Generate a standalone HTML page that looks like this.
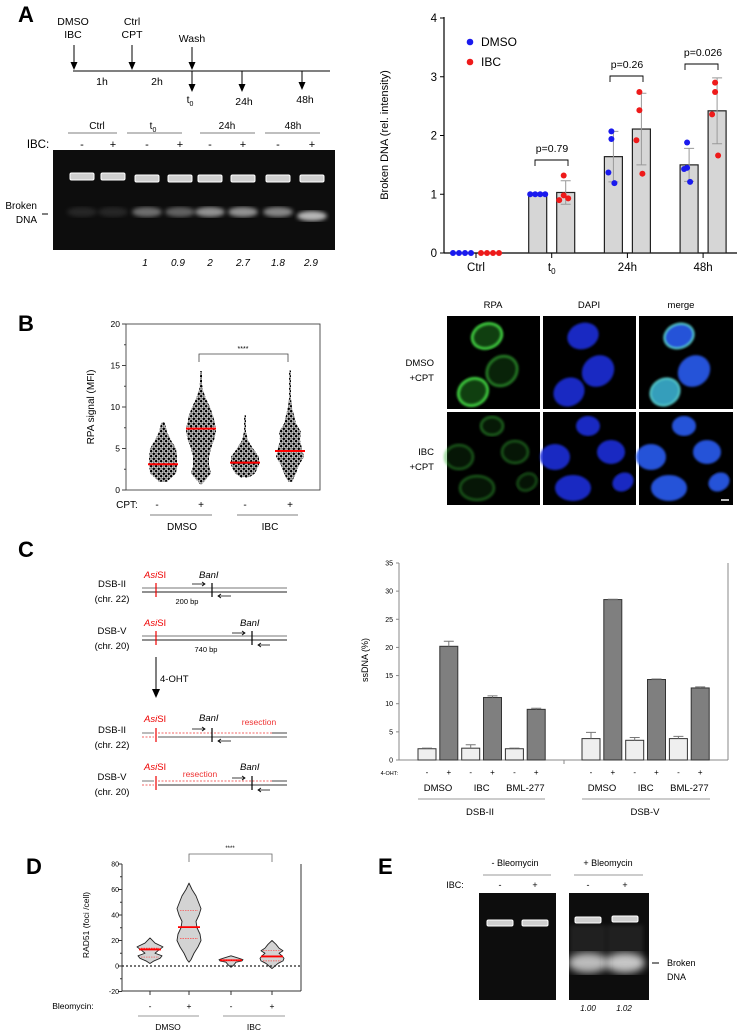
<!DOCTYPE html>
<html><head><meta charset="utf-8"><style>
html,body{margin:0;padding:0;background:#fff}
svg{display:block;font-family:"Liberation Sans",Arial,sans-serif}
</style></head><body>
<svg id="fig" width="737" height="1032" viewBox="0 0 737 1032" xmlns="http://www.w3.org/2000/svg">
<defs>
<filter id="blur2"><feGaussianBlur stdDeviation="2"/></filter>
<filter id="blur1"><feGaussianBlur stdDeviation="1"/></filter>
<filter id="blur4"><feGaussianBlur stdDeviation="4"/></filter>
<pattern id="dots" width="5" height="5" patternUnits="userSpaceOnUse"><rect width="5" height="5" fill="#fff"/><circle cx="1.2" cy="1.2" r="1.3" fill="#000"/><circle cx="3.7" cy="3.7" r="1.3" fill="#000"/><circle cx="3.9" cy="1.0" r="0.8" fill="#222"/><circle cx="1.0" cy="3.9" r="0.8" fill="#222"/></pattern>
</defs>

<!-- Panel A -->
<g>
<text x="18" y="22" font-size="22" font-weight="bold">A</text>
<g font-size="10.5" text-anchor="middle">
<text x="73" y="25">DMSO</text><text x="73" y="38">IBC</text>
<text x="132" y="25">Ctrl</text><text x="132" y="38">CPT</text>
<text x="192" y="42">Wash</text>
<line x1="73" y1="71" x2="330" y2="71" stroke="#000" stroke-width="1"/>
<line x1="74" y1="45" x2="74" y2="63" stroke="#000"/><polygon points="70.5,62 77.5,62 74,70" fill="#000"/>
<line x1="132" y1="45" x2="132" y2="63" stroke="#000"/><polygon points="128.5,62 135.5,62 132,70" fill="#000"/>
<line x1="192" y1="47" x2="192" y2="63" stroke="#000"/><polygon points="188.5,62 195.5,62 192,70" fill="#000"/>
<line x1="192" y1="71" x2="192" y2="85" stroke="#000"/><polygon points="188.5,84 195.5,84 192,92" fill="#000"/>
<line x1="242" y1="71" x2="242" y2="85" stroke="#000"/><polygon points="238.5,84 245.5,84 242,92" fill="#000"/>
<line x1="302" y1="71" x2="302" y2="83" stroke="#000"/><polygon points="298.5,82 305.5,82 302,90" fill="#000"/>
<text x="102" y="85">1h</text><text x="157" y="85">2h</text>
<text x="190" y="103">t<tspan font-size="7" dy="3">0</tspan></text>
<text x="244" y="105">24h</text><text x="305" y="103">48h</text>
</g>
<g font-size="10" text-anchor="middle">
<text x="97" y="129">Ctrl</text><text x="153" y="129">t<tspan font-size="7" dy="3">0</tspan></text>
<text x="227" y="129">24h</text><text x="293" y="129">48h</text>
<line x1="68" y1="133" x2="117" y2="133" stroke="#555" stroke-width="0.8"/>
<line x1="127" y1="133" x2="182" y2="133" stroke="#555" stroke-width="0.8"/>
<line x1="200" y1="133" x2="255" y2="133" stroke="#555" stroke-width="0.8"/>
<line x1="265" y1="133" x2="320" y2="133" stroke="#555" stroke-width="0.8"/>
<text x="38" y="148" font-size="11.5">IBC:</text>
<text x="82" y="148" font-size="11">-</text><text x="113" y="148" font-size="11">+</text>
<text x="147" y="148" font-size="11">-</text><text x="180" y="148" font-size="11">+</text>
<text x="210" y="148" font-size="11">-</text><text x="243" y="148" font-size="11">+</text>
<text x="278" y="148" font-size="11">-</text><text x="312" y="148" font-size="11">+</text>
</g>
<rect x="53" y="150" width="282" height="100" fill="#0d0d0d"/>
<g id="gelA"></g>
<g font-size="10" text-anchor="end">
<text x="37" y="209">Broken</text><text x="37" y="223">DNA</text>
<line x1="42" y1="214" x2="48" y2="214" stroke="#000"/>
</g>
<g font-size="10" font-style="italic" text-anchor="middle">
<text x="145" y="266">1</text><text x="178" y="266">0.9</text><text x="210" y="266">2</text>
<text x="243" y="266">2.7</text><text x="278" y="266">1.8</text><text x="311" y="266">2.9</text>
</g>
</g>

<g id="chartA">
<text transform="translate(388,135) rotate(-90)" font-size="11" text-anchor="middle">Broken DNA (rel. intensity)</text>
<line x1="444" y1="17" x2="444" y2="253" stroke="#000" stroke-width="1.2"/>
<line x1="444" y1="253" x2="737" y2="253" stroke="#000" stroke-width="1.2"/>
<circle cx="470" cy="42" r="3.3" fill="#1a1aee"/>
<text x="481" y="46" font-size="12">DMSO</text>
<circle cx="470" cy="62" r="3.3" fill="#ee1a1a"/>
<text x="481" y="66" font-size="12">IBC</text>
<g font-size="10.5" text-anchor="middle" fill="none" stroke="#000" stroke-width="0.9">
<path d="M535,166 V160 H568 V166"/>
<path d="M610,82 V76 H643 V82"/>
<path d="M685,70 V64 H718 V70"/>
</g>
<g font-size="10.5" text-anchor="middle">
<text x="552" y="152">p=0.79</text>
<text x="627" y="68">p=0.26</text>
<text x="703" y="56">p=0.026</text>
</g>
</g>

<!-- Panel B -->
<g>
<text x="18" y="331" font-size="22" font-weight="bold">B</text>
<g id="chartB">
<rect x="126" y="324" width="194" height="166" fill="none" stroke="#444" stroke-width="0.9"/>
<text transform="translate(94,407) rotate(-90)" font-size="10" text-anchor="middle">RPA signal (MFI)</text>
<path d="M199,362 V354 H288 V362" fill="none" stroke="#444" stroke-width="0.8"/>
<text x="243" y="351" font-size="7" text-anchor="middle">****</text>
</g>
<g font-size="10" text-anchor="middle">
<text x="127" y="508">CPT:</text>
<text x="157" y="508">-</text><text x="201" y="508">+</text><text x="245" y="508">-</text><text x="290" y="508">+</text>
<line x1="150" y1="515" x2="212" y2="515" stroke="#555" stroke-width="0.8"/>
<line x1="237" y1="515" x2="298" y2="515" stroke="#555" stroke-width="0.8"/>
<text x="182" y="530">DMSO</text><text x="270" y="530">IBC</text>
</g>
<g font-size="9.5" text-anchor="middle">
<text x="493" y="308">RPA</text><text x="589" y="308">DAPI</text><text x="681" y="308">merge</text>
</g>
<g font-size="9.5" text-anchor="end">
<text x="434" y="366">DMSO</text><text x="434" y="381">+CPT</text>
<text x="434" y="455">IBC</text><text x="434" y="470">+CPT</text>
</g>
<g id="micro"></g>
</g>

<!-- Panel C -->
<g>
<text x="18" y="557" font-size="22" font-weight="bold">C</text>
<g font-size="9.5" text-anchor="middle">
<text x="112" y="587">DSB-II</text><text x="112" y="602">(chr. 22)</text>
<text x="112" y="634">DSB-V</text><text x="112" y="649">(chr. 20)</text>
<text x="112" y="733">DSB-II</text><text x="112" y="748">(chr. 22)</text>
<text x="112" y="780">DSB-V</text><text x="112" y="795">(chr. 20)</text>
</g>
<g font-size="9.5">
<line x1="142" y1="588" x2="287" y2="588" stroke="#777"/><line x1="142" y1="592" x2="287" y2="592" stroke="#222"/>
<line x1="156" y1="583" x2="156" y2="597" stroke="#e00" stroke-width="1.2"/>
<line x1="212" y1="583" x2="212" y2="597" stroke="#000" stroke-width="1.2"/>
<text x="144" y="578" fill="#e00"><tspan font-style="italic">Asi</tspan>SI</text>
<text x="199" y="578" font-style="italic">BanI</text>
<path d="M192,584 H205 M202,582 L205,584 L202,586 M231,596 H218 M221,594 L218,596 L221,598" stroke="#000" stroke-width="0.8" fill="none"/>
<text x="187" y="604" font-size="7.5" text-anchor="middle">200 bp</text>
<line x1="142" y1="636" x2="287" y2="636" stroke="#777"/><line x1="142" y1="640" x2="287" y2="640" stroke="#222"/>
<line x1="156" y1="631" x2="156" y2="645" stroke="#e00" stroke-width="1.2"/>
<line x1="252" y1="631" x2="252" y2="645" stroke="#000" stroke-width="1.2"/>
<text x="144" y="626" fill="#e00"><tspan font-style="italic">Asi</tspan>SI</text>
<text x="240" y="626" font-style="italic">BanI</text>
<path d="M232,633 H245 M242,631 L245,633 L242,635 M270,645 H258 M261,643 L258,645 L261,647" stroke="#000" stroke-width="0.8" fill="none"/>
<text x="206" y="652" font-size="7.5" text-anchor="middle">740 bp</text>
<line x1="156" y1="657" x2="156" y2="690" stroke="#000"/><polygon points="152,689 160,689 156,698" fill="#000"/>
<text x="160" y="682">4-OHT</text>
<line x1="142" y1="733" x2="154" y2="733" stroke="#777"/>
<line x1="158" y1="733" x2="272" y2="733" stroke="#e33" stroke-dasharray="2,1.5" stroke-width="0.8"/>
<line x1="272" y1="733" x2="287" y2="733" stroke="#444"/>
<line x1="142" y1="737" x2="154" y2="737" stroke="#e33" stroke-dasharray="2,1.5" stroke-width="0.8"/>
<line x1="158" y1="737" x2="287" y2="737" stroke="#777" stroke-width="1.3"/>
<line x1="156" y1="728" x2="156" y2="742" stroke="#e00" stroke-width="1.2"/>
<line x1="212" y1="728" x2="212" y2="742" stroke="#000" stroke-width="1.2"/>
<text x="144" y="722" fill="#e00"><tspan font-style="italic">Asi</tspan>SI</text>
<text x="199" y="721" font-style="italic">BanI</text>
<text x="259" y="725" fill="#e33" font-size="8.5" text-anchor="middle">resection</text>
<path d="M192,729 H205 M202,727 L205,729 L202,731 M231,741 H218 M221,739 L218,741 L221,743" stroke="#000" stroke-width="0.8" fill="none"/>
<line x1="142" y1="781" x2="154" y2="781" stroke="#777"/>
<line x1="158" y1="781" x2="272" y2="781" stroke="#e33" stroke-dasharray="2,1.5" stroke-width="0.8"/>
<line x1="272" y1="781" x2="287" y2="781" stroke="#444"/>
<line x1="142" y1="785" x2="154" y2="785" stroke="#e33" stroke-dasharray="2,1.5" stroke-width="0.8"/>
<line x1="158" y1="785" x2="287" y2="785" stroke="#333" stroke-width="1"/>
<line x1="156" y1="776" x2="156" y2="790" stroke="#e00" stroke-width="1.2"/>
<line x1="252" y1="776" x2="252" y2="790" stroke="#000" stroke-width="1.2"/>
<text x="144" y="770" fill="#e00"><tspan font-style="italic">Asi</tspan>SI</text>
<text x="200" y="777" fill="#e33" font-size="8.5" text-anchor="middle">resection</text>
<text x="240" y="770" font-style="italic">BanI</text>
<path d="M232,778 H245 M242,776 L245,778 L242,780 M270,790 H258 M261,788 L258,790 L261,792" stroke="#000" stroke-width="0.8" fill="none"/>
</g>
<g id="chartC">
<text transform="translate(368,660) rotate(-90)" font-size="9" text-anchor="middle">ssDNA (%)</text>
<line x1="399" y1="563" x2="399" y2="760" stroke="#888"/>
<line x1="399" y1="760" x2="728" y2="760" stroke="#888"/>
<line x1="728" y1="563" x2="728" y2="760" stroke="#888"/>
<line x1="564" y1="760" x2="564" y2="764" stroke="#888"/>
<text x="398" y="775" font-size="5.5" text-anchor="end">4-OHT:</text>
<line x1="418" y1="799" x2="545" y2="799" stroke="#777" stroke-width="0.8"/>
<line x1="582" y1="799" x2="710" y2="799" stroke="#777" stroke-width="0.8"/>
<text x="480" y="815" font-size="9.5" text-anchor="middle">DSB-II</text>
<text x="645" y="815" font-size="9.5" text-anchor="middle">DSB-V</text>
</g>
</g>

<!-- Panel D -->
<g>
<text x="26" y="874" font-size="22" font-weight="bold">D</text>
<g id="chartD">
<line x1="122" y1="864" x2="122" y2="991" stroke="#333"/>
<line x1="122" y1="991" x2="301" y2="991" stroke="#333"/>
<line x1="301" y1="864" x2="301" y2="991" stroke="#333"/>
<text transform="translate(89,925) rotate(-90)" font-size="8.5" text-anchor="middle">RAD51 (foci /cell)</text>
<path d="M189,862 V854 H272 V862" fill="none" stroke="#666" stroke-width="0.8"/>
<text x="230" y="850" font-size="6" text-anchor="middle">****</text>
</g>
<g font-size="8.5" text-anchor="middle">
<text x="73" y="1009">Bleomycin:</text>
<text x="150" y="1009">-</text><text x="189" y="1009">+</text><text x="231" y="1009">-</text><text x="272" y="1009">+</text>
<line x1="138" y1="1016" x2="199" y2="1016" stroke="#777" stroke-width="0.8"/>
<line x1="223" y1="1016" x2="285" y2="1016" stroke="#777" stroke-width="0.8"/>
<text x="168" y="1030">DMSO</text><text x="254" y="1030">IBC</text>
</g>
</g>

<!-- Panel E -->
<g>
<text x="378" y="874" font-size="22" font-weight="bold">E</text>
<g font-size="9" text-anchor="middle">
<text x="515" y="866">- Bleomycin</text><text x="608" y="866">+ Bleomycin</text>
<line x1="483" y1="875" x2="551" y2="875" stroke="#777" stroke-width="0.8"/>
<line x1="574" y1="875" x2="643" y2="875" stroke="#777" stroke-width="0.8"/>
<text x="455" y="888">IBC:</text>
<text x="500" y="888">-</text><text x="535" y="888">+</text><text x="588" y="888">-</text><text x="625" y="888">+</text>
</g>
<rect x="479" y="893" width="77" height="107" fill="#0d0d0d"/>
<rect x="569" y="893" width="80" height="107" fill="#0d0d0d"/>
<g id="gelE"></g>
<g font-size="9">
<line x1="652" y1="963" x2="659" y2="963" stroke="#000"/>
<text x="667" y="966">Broken</text><text x="667" y="980">DNA</text>
</g>
<g font-size="8" font-style="italic" text-anchor="middle">
<text x="588" y="1011">1.00</text><text x="624" y="1011">1.02</text>
</g>
</g>
</svg>

<script>
const NS='http://www.w3.org/2000/svg';
function el(tag,attrs,parent){const e=document.createElementNS(NS,tag);for(const k in attrs)e.setAttribute(k,attrs[k]);parent.appendChild(e);return e;}

// ---------- Chart A data ----------
const aCategories=['Ctrl','t0','24h','48h'];
const aDmsoMeans=[0,1.0,1.64,1.5];
const aIbcMeans=[0,1.03,2.11,2.42];
const aDmsoErr=[0,0,0.43,0.28];
const aIbcErr=[0,0.2,0.61,0.56];
const aDmsoPoints=[[0,0,0,0],[1,1,1,1],[2.07,1.94,1.37,1.19],[1.88,1.45,1.43,1.21]];
const aIbcPoints=[[0,0,0,0],[1.32,0.98,0.9,0.93],[2.74,2.43,1.92,1.35],[2.9,2.74,2.36,1.66]];
const aYTicks=[0,1,2,3,4];

const gA=document.getElementById('chartA');
const yA=v=>253-v*58.75;
const xA=i=>476+i*75.7;
aYTicks.forEach(t=>{
  const l=el('line',{x1:440,x2:444,y1:yA(t),y2:yA(t),stroke:'#000'},gA);
  
  
  const tx=el('text',{x:437,y:yA(t)+4,'font-size':11.5,'text-anchor':'end'},gA);
  tx.textContent=t;
  
  
});
aCategories.forEach((c,i)=>{
  el('line',{x1:xA(i),x2:xA(i),y1:253,y2:258,stroke:'#000'},gA);
  const tx=el('text',{x:xA(i),y:271,'font-size':11.5,'text-anchor':'middle'},gA);
  if(c==='t0'){tx.textContent='t';const s=el('tspan',{'font-size':8,dy:3},tx);s.textContent='0';}
  else tx.textContent=c;
  
  
});
function drawA(means,errs,pts,off,color,nm){
  means.forEach((m,i)=>{
    const cx=xA(i)+off;
    if(m>0){
      const b=el('rect',{x:cx-9,y:yA(m),width:18,height:yA(0)-yA(m),fill:'#d6d6d6',stroke:'#222','stroke-width':1.2},gA);
      
      
    }
    if(errs[i]>0){
      const e=el('path',{d:`M${cx},${yA(m-errs[i])}V${yA(m+errs[i])}M${cx-5},${yA(m+errs[i])}H${cx+5}M${cx-5},${yA(m-errs[i])}H${cx+5}`,stroke:'#999','stroke-width':1,fill:'none'},gA);
      
      
    }
    pts[i].forEach((p,j)=>{
      let dx;
      if(i===0) dx=(j-1.5)*6;
      else if(i===1 && nm==='dmso') dx=(j-1.5)*5;
      else dx=[0,0,-3,3][j]*(nm==='ibc'&&i===1?1.5:1)-2;
      const c=el('circle',{cx:cx+dx,cy:yA(p),r:3,fill:color},gA);
      
      
    });
  });
}
drawA(aDmsoMeans,aDmsoErr,aDmsoPoints,-14,'#1a1aee','dmso');
drawA(aIbcMeans,aIbcErr,aIbcPoints,14,'#ee1a1a','ibc');

// ---------- Gel A ----------
const gelALanes=[82,113,147,180,210,243,278,312];
const gelASmear=[0.1,0.1,0.4,0.35,0.55,0.55,0.5,0.7];
const gelAGroup=document.getElementById('gelA');
gelALanes.forEach((x,i)=>{
  const s=el('ellipse',{cx:x,cy:i===7?216:212,rx:15,ry:5,fill:'#fff',opacity:gelASmear[i],filter:'url(#blur2)'},gelAGroup);
  
  
  const b=el('rect',{x:x-12,y:i<2?173:175,width:24,height:7,rx:1.5,fill:'#cfcfcf',stroke:'#fff','stroke-width':1},gelAGroup);
  
  
});

// ---------- Chart B (swarm outlines) ----------
const bGroups=['DMSO -','DMSO +','IBC -','IBC +'];
const bMeans=[3.1,7.4,3.3,4.7];
const bLevels=[[1,2,3,4,5,6,7,8,8.2],[0.7,1,2,3,4,5,6,7,8,9,10,11,12,13,14.3],[1.5,2,3,4,5,6,7,9],[1,2,3,4,5,6,7,8,9,10,11,14.4]];
const bWidths=[[4,13,14,14,13,8,4,2,1],[1,3,10,8,8,10,13,15,14,12,9,5,2,1,1],[4,10,14,14,8,3,1,1],[2,6,9,14,12,10,11,6,4,2,1,1]];
const bTicks=[0,5,10,15,20];
const gB=document.getElementById('chartB');
const yB=v=>490-v*8.3;
const xB=i=>[163,201,245,290][i];
bTicks.forEach(t=>{
  el('line',{x1:122,x2:126,y1:yB(t),y2:yB(t),stroke:'#444'},gB);
  const tx=el('text',{x:120,y:yB(t)+3,'font-size':8.5,'text-anchor':'end'},gB);
  tx.textContent=t;
  
  
});
[2.5,7.5,12.5,17.5].forEach(t=>el('line',{x1:124,x2:126,y1:yB(t),y2:yB(t),stroke:'#444'},gB));
bGroups.forEach((g,i)=>{
  const L=bLevels[i],W=bWidths[i],cx=xB(i);
  let d='M'+cx+','+yB(L[0]);
  L.forEach((v,j)=>d+='L'+(cx+W[j])+','+yB(v));
  for(let j=L.length-1;j>=0;j--) d+='L'+(cx-W[j])+','+yB(L[j]);
  d+='Z';
  const p=el('path',{d:d,fill:'url(#dots)'},gB);
  
  
  const m=el('line',{x1:cx-15,x2:cx+15,y1:yB(bMeans[i]),y2:yB(bMeans[i]),stroke:'#f00','stroke-width':2},gB);
  
  
});

// ---------- Micrographs ----------
const micro=document.getElementById('micro');
const cols=[447,543,639], rows=[316,412];
const nuclei=[[[40,20,15,12,-20,1],[55,55,16,14,-40,0.55],[26,76,15,13,-30,1]],
              [[45,14,11,9,0,0.4],[12,45,14,12,0,0.35],[68,40,13,11,0,0.35],[30,76,17,12,0,0.35],[80,70,10,8,-30,0.3]]];
rows.forEach((ry,ri)=>cols.forEach((cx,ci)=>{
  const w=ci===2?94:93;
  const r=el('rect',{x:cx,y:ry,width:w,height:93,fill:'#000'},micro);
  
  
  nuclei[ri].forEach(n=>{
    const col=ci===0?'#3ec83e':(ci===1?'#1a2fd8':'#2a5cf0');
    const op=ci===0?n[5]:0.9;
    const tr=`rotate(${n[4]} ${cx+n[0]} ${ry+n[1]})`;
    if(ci===0) el('ellipse',{cx:cx+n[0],cy:ry+n[1],rx:n[2],ry:n[3],transform:tr,fill:'#1f6a1f',opacity:op*0.6,filter:'url(#blur1)'},micro);
    el('ellipse',{cx:cx+n[0],cy:ry+n[1],rx:n[2],ry:n[3],transform:tr,fill:ci===0?'none':(ci===2&&ri===0&&n[5]>0.9&&n[1]>50?'#3ab0d0':col),stroke:ci===0?col:(ci===2&&ri===0&&n[5]>0.9?'#5fe0e0':col),'stroke-width':ci===0?3:2,opacity:op,filter:'url(#blur1)'},micro);
  });
}));
el('line',{x1:721,x2:729,y1:500,y2:500,stroke:'#fff','stroke-width':1.5},micro);

// ---------- Chart C ----------
const cLabels=['DMSO','IBC','BML-277','DMSO','IBC','BML-277'];
const cMinus=[2.0,2.1,2.0,3.8,3.5,3.8];
const cPlus=[20.2,11.1,9.0,28.5,14.3,12.8];
const cMinusErr=[0.1,0.6,0.1,1.1,0.5,0.4];
const cPlusErr=[0.9,0.3,0.2,0.05,0.1,0.2];
const cTicks=[0,5,10,15,20,25,30,35];
const gC=document.getElementById('chartC');
const yC=v=>760-v*5.629;
const xC=i=>(i<3?427:591)+(i%3)*43.7;
cTicks.forEach(t=>{
  el('line',{x1:396,x2:399,y1:yC(t),y2:yC(t),stroke:'#888'},gC);
  const tx=el('text',{x:393,y:yC(t)+2.5,'font-size':7,'text-anchor':'end'},gC);
  tx.textContent=t;
  
  
});
cLabels.forEach((lab,i)=>{
  [[cMinus,cMinusErr,'#efefef','-',0],[cPlus,cPlusErr,'#7f7f7f','+',21.8]].forEach(s=>{
    const v=s[0][i],e=s[1][i],cx=xC(i)+s[4];
    const b=el('rect',{x:cx-9,y:yC(v),width:18,height:yC(0)-yC(v),fill:s[2],stroke:'#333','stroke-width':1},gC);
    
    
    const eb=el('path',{d:`M${cx},${yC(v)}V${yC(v+e)}M${cx-5},${yC(v+e)}H${cx+5}`,stroke:'#777',fill:'none'},gC);
    
    
    const t=el('text',{x:cx,y:775,'font-size':8,'text-anchor':'middle'},gC);
    t.textContent=s[3];
  });
  const gl=el('text',{x:xC(i)+11,y:791,'font-size':9.5,'text-anchor':'middle'},gC);
  gl.textContent=lab;
  
  
});

// ---------- Chart D (violins) ----------
const dGroups=['DMSO -','DMSO +','IBC -','IBC +'];
const dLevels=[[2,4,6,8,10,12,15,18,22],[3,5,10,15,20,25,30,35,40,45,55,60,65],[-1,1,3,4,5,6,8],[-2,0,2,4,6,8,10,12,14,17,20]];
const dWidths=[[0,4,10,12,5,8,13,5,0],[0,2,5,9,12,11,8,7,10,12,7,3,0],[0,3,5,11,12,8,0],[0,3,6,11,12,10,7,11,7,4,0]];
const dMedians=[13,30.5,4.5,7.5];
const dQ1=[7,21.5,4,4];
const dQ3=[14,43.5,5,12];
const dTicks=[-20,0,20,40,60,80];
const gD=document.getElementById('chartD');
const yD=v=>966-v*1.275;
const xD=i=>[150,189,231,272][i];
dTicks.forEach(t=>{
  el('line',{x1:118,x2:122,y1:yD(t),y2:yD(t),stroke:'#333'},gD);
  const tx=el('text',{x:119,y:yD(t)+2.5,'font-size':7,'text-anchor':'end'},gD);
  tx.textContent=t;
  
  
});
[-10,10,30,50,70].forEach(t=>el('line',{x1:120,x2:122,y1:yD(t),y2:yD(t),stroke:'#333'},gD));
dGroups.forEach((g,i)=>{
  el('line',{x1:xD(i),x2:xD(i),y1:991,y2:995,stroke:'#333'},gD);
  const L=dLevels[i],W=dWidths[i],cx=xD(i);
  let d='M'+cx+','+yD(L[0]);
  L.forEach((v,j)=>d+='L'+(cx+W[j])+','+yD(v));
  for(let j=L.length-1;j>=0;j--) d+='L'+(cx-W[j])+','+yD(L[j]);
  d+='Z';
  const p=el('path',{d:d,fill:'#d3d3d3',stroke:'#222','stroke-width':0.9,'stroke-linejoin':'round'},gD);
  
  
  const m=el('line',{x1:cx-11,x2:cx+11,y1:yD(dMedians[i]),y2:yD(dMedians[i]),stroke:'#f00','stroke-width':1.8},gD);
  
  
  [dQ1[i],dQ3[i]].forEach(q=>el('line',{x1:cx-9,x2:cx+9,y1:yD(q),y2:yD(q),stroke:'#f44','stroke-width':0.7,'stroke-dasharray':'1.5,1'},gD));
});
el('line',{x1:122,x2:301,y1:yD(0),y2:yD(0),stroke:'#222','stroke-width':1.2,'stroke-dasharray':'2,2'},gD);

// ---------- Gel E ----------
const gelELanes=[500,535,588,625];
const gelEBandY=[920,920,917,916];
const gelESmear=[0,0,0.7,0.75];
const gE=document.getElementById('gelE');
gelELanes.forEach((x,i)=>{
  if(gelESmear[i]>0){
    const s=el('ellipse',{cx:x,cy:963,rx:20,ry:10,fill:'#fff',opacity:gelESmear[i],filter:'url(#blur4)'},gE);
    
    
    el('rect',{x:x-18,y:925,width:36,height:40,fill:'#fff',opacity:0.08,filter:'url(#blur2)'},gE);
  }
  const b=el('rect',{x:x-13,y:gelEBandY[i],width:26,height:6,rx:1.5,fill:'#cfcfcf',stroke:'#fff','stroke-width':1},gE);
  
  
});
</script>
</body></html>
